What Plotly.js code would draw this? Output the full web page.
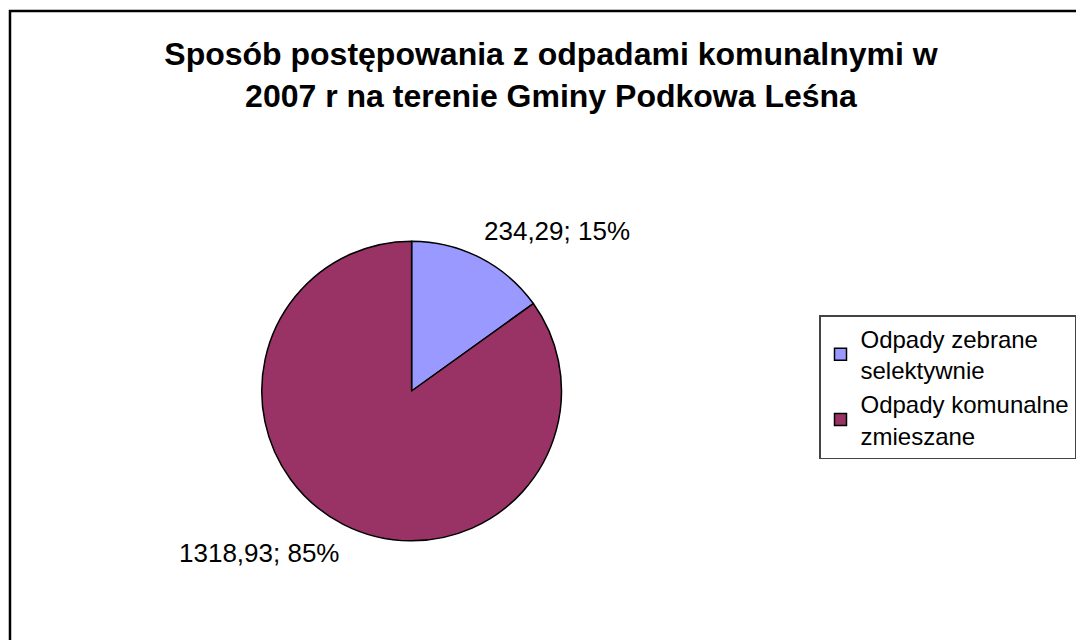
<!DOCTYPE html>
<html>
<head>
<meta charset="utf-8">
<script src="https://cdn.plot.ly/plotly-3.0.1.min.js"></script>
<style>html,body{margin:0;padding:0;background:#fff;}#chart{width:1076px;height:640px;}</style>
</head>
<body>
<div id="chart"></div>
<script>
const categories = ["Odpady zebrane<br>selektywnie", "Odpady komunalne<br>zmieszane"];
const values = [234.29, 1318.93];
const colors = ["#9999FF", "#993366"];
const titleText = "Sposób postępowania z odpadami komunalnymi w<br>2007 r na terenie Gminy Podkowa Leśna";

const W = 1076, H = 640;
const cx = 412, cy = 391, r = 150;

const total = values.reduce((a, b) => a + b, 0);
const labelText = values.map(v => v.toFixed(2).replace('.', ',') + '; ' + Math.round(v / total * 100) + '%');

const font = "Liberation Sans, Arial, sans-serif";

const trace = {
  type: 'pie',
  labels: categories,
  values: values,
  sort: false,
  direction: 'clockwise',
  rotation: 0,
  marker: {colors: colors, line: {color: '#000000', width: 1.5}},
  textinfo: 'none',
  hoverinfo: 'none',
  domain: {x: [(cx - r) / W, (cx + r) / W], y: [(H - cy - r) / H, (H - cy + r) / H]}
};

const layout = {
  width: W, height: H,
  margin: {l: 0, r: 0, t: 0, b: 0},
  paper_bgcolor: '#ffffff',
  font: {family: font, color: '#000000'},
  title: {
    text: titleText,
    font: {family: font, size: 32, color: '#000000', weight: 'bold'},
    x: 551 / W, xanchor: 'center',
    y: 1 - 65 / H, yanchor: 'top'
  },
  showlegend: true,
  legend: {
    x: 820 / W, xanchor: 'left',
    y: 1 - 315 / H, yanchor: 'top',
    bordercolor: '#444444', borderwidth: 1.5,
    bgcolor: '#ffffff',
    font: {family: font, size: 24, color: '#000000'},
    tracegroupgap: 10,
    itemwidth: 30
  },
  annotations: [
    {text: labelText[0], xref: 'paper', yref: 'paper', x: 558 / W, y: 1 - 231 / H, xanchor: 'center', yanchor: 'middle', showarrow: false, font: {family: font, size: 26, color: '#000000'}},
    {text: labelText[1], xref: 'paper', yref: 'paper', x: 259 / W, y: 1 - 553 / H, xanchor: 'center', yanchor: 'middle', showarrow: false, font: {family: font, size: 26, color: '#000000'}}
  ],
  shapes: [
    {type: 'rect', xref: 'paper', yref: 'paper', x0: 10 / W, x1: 1.05, y0: -0.05, y1: 1 - 11 / H, line: {color: '#000000', width: 2.5}, fillcolor: 'rgba(0,0,0,0)'}
  ]
};

Plotly.newPlot('chart', [trace], layout, {staticPlot: true});
</script>
</body>
</html>
